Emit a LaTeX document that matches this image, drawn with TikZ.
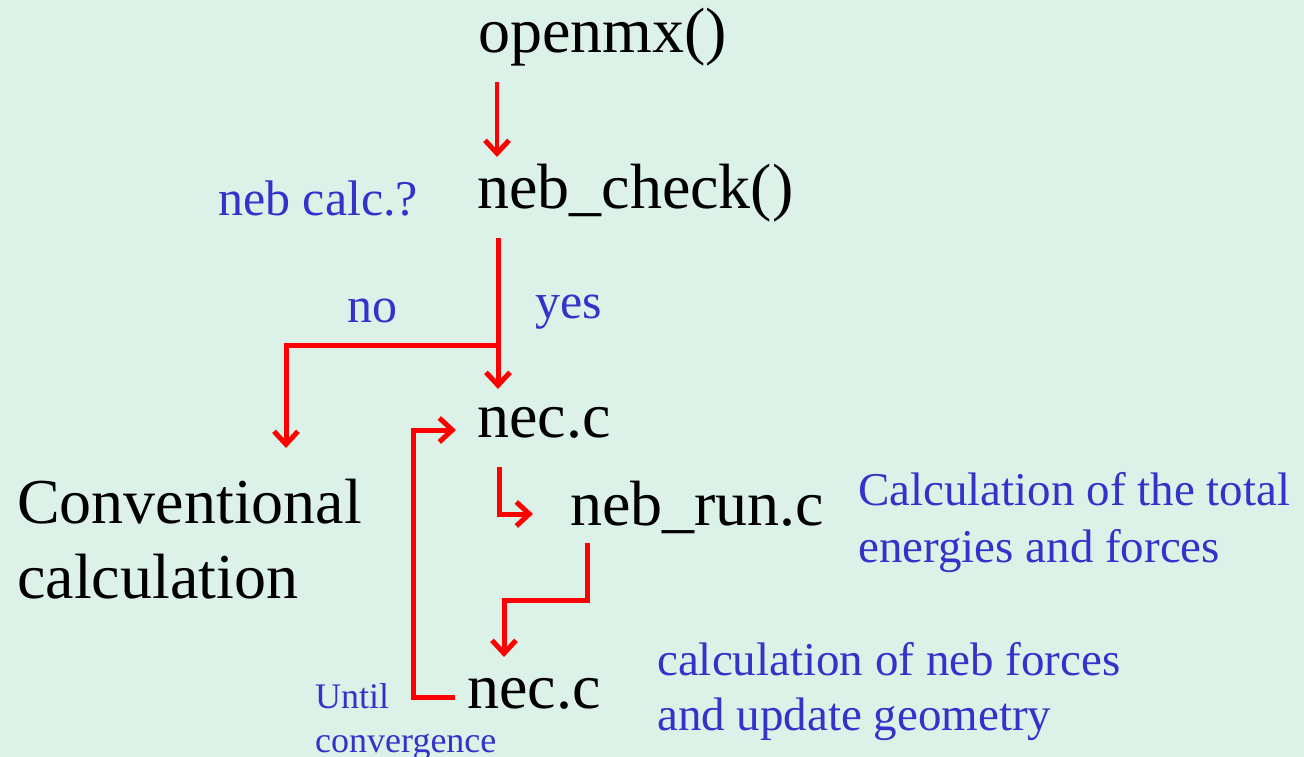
\documentclass[tikz,border=0pt]{standalone}
\usepackage{fontspec}
\setmainfont{Liberation Serif}
\usetikzlibrary{arrows.meta}
\definecolor{bgc}{RGB}{220,241,232}
\definecolor{lblue}{RGB}{51,51,204}
\definecolor{lred}{RGB}{255,0,0}
\begin{document}
\begin{tikzpicture}[x=1pt,y=-1pt,
  main/.style={inner sep=0pt,anchor=base west,font=\fontsize{64}{75}\selectfont,text=black,align=left},
  note/.style={inner sep=0pt,anchor=base west,font=\fontsize{47}{57}\selectfont,text=lblue,align=left},
  small/.style={inner sep=0pt,anchor=base west,font=\fontsize{36}{44}\selectfont,text=lblue,align=left},
  flow/.style={draw=lred,line width=5pt,line join=miter,-{Straight Barb[length=13pt,width=24pt,line width=5pt]}}]
\fill[bgc] (0,0) rectangle (1304,757);
\useasboundingbox (0,0) rectangle (1304,757);
% texts (multi-line nodes are anchored at the baseline of their last line)
\node[main] (openmx) at (478,53) {openmx()};
\node[main] (check) at (477,208) {neb\_check()};
\node[note,font=\fontsize{50}{57}\selectfont] (q) at (218,215) {neb calc.?};
\node[note,font=\fontsize{50}{57}\selectfont] (no) at (347,322) {no};
\node[note,font=\fontsize{50}{57}\selectfont] (yes) at (535,318) {yes};
\node[main] (nec1) at (477,437) {nec.c};
\node[main] (conv) at (17,598) {Conventional\\calculation};
\node[main] (run) at (570,525) {neb\_run.c};
\node[note] (tot) at (858,562) {Calculation of the total\\energies and forces};
\node[main] (nec2) at (467,708) {nec.c};
\node[note,font=\fontsize{47}{55}\selectfont] (neb) at (657,730) {calculation of neb forces\\and update geometry};
\node[small] (until) at (315,752) {Until\\convergence};
% connector coordinates
\coordinate (a1) at (497,82);
\coordinate (a2) at (497,157);
\coordinate (b1) at (498,238);
\coordinate (b2) at (498,389);
\coordinate (bj) at (498,345);
\coordinate (c2) at (286,448);
\coordinate (d1) at (455,697);
\coordinate (dk) at (413,430);
\coordinate (d2) at (456,430);
\coordinate (e1) at (499,467);
\coordinate (e2) at (533,514);
\coordinate (f1) at (587,543);
\coordinate (f2) at (504,600);
\coordinate (f3) at (504,657);
% connectors
\draw[flow,line width=4pt] (a1) -- (a2);
\draw[flow] (b1) -- (b2);
\draw[flow] (bj) -| (c2);
\draw[flow] (d1) -| (dk) -- (d2);
\draw[flow] (e1) |- (e2);
\draw[flow] (f1) |- (f2) -- (f3);
\end{tikzpicture}
\end{document}
